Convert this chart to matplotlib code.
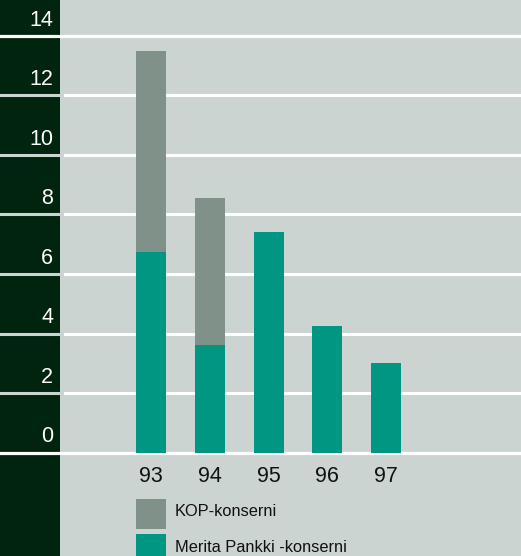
import matplotlib.pyplot as plt
from matplotlib.patches import Rectangle

# Data
years = ['93', '94', '95', '96', '97']
merita = [6.75, 3.6, 7.4, 4.25, 3.0]
kop = [6.75, 4.95, 0.0, 0.0, 0.0]
yticks = [0, 2, 4, 6, 8, 10, 12, 14]
legend_labels = ['KOP-konserni', 'Merita Pankki -konserni']

# Colours
bg = '#cbd4d0'
strip = '#01240f'
grey = '#7f9188'
teal = '#009682'

W, H = 521, 556
fig = plt.figure(figsize=(W / 100, H / 100), dpi=100, facecolor=bg)
ax = fig.add_axes([0, 0, 1, 1])
ax.set_facecolor(bg)
for s in ax.spines.values():
    s.set_visible(False)
ax.set_xticks([])
ax.set_yticks([])

# pixel geometry -> data limits
px_per_cat = 58.75
px_per_unit = 29.75
x0_px, y0_px = 151, 452.5
ax.set_xlim(-x0_px / px_per_cat, (W - x0_px) / px_per_cat)
ax.set_ylim(-(H - y0_px) / px_per_unit, y0_px / px_per_unit)

# dark strip on the left
ax.add_patch(Rectangle((0, 0), 60 / W, 1, transform=ax.transAxes,
                       facecolor=strip, edgecolor='none', zorder=1))

# grid lines
for v in yticks:
    if v in (0, 14):
        ax.axhline(v, xmin=0, xmax=1, color='white', lw=2.3, zorder=2)
    else:
        ax.axhline(v, xmin=0, xmax=60 / W, color=bg, lw=2.2, zorder=2)
        ax.axhline(v, xmin=65 / W, xmax=1, color='white', lw=2.2, zorder=2)
    ax.text(53 / W, v + 0.53, str(v), transform=ax.get_yaxis_transform(),
            ha='right', va='center', color='white', fontsize=15.5,
            family='Liberation Sans', zorder=4)

# bars
xs = list(range(len(years)))
bw = 30 / px_per_cat
ax.bar(xs, merita, width=bw, color=teal, zorder=3)
ax.bar(xs, kop, width=bw, bottom=merita, color=grey, zorder=3)

# category labels
for x, lab in zip(xs, years):
    ax.text(x, -0.79, lab, ha='center', va='center', color='#111111',
            fontsize=15.5, family='Liberation Sans')

# legend drawn by hand
leg_colors = [grey, teal]
leg_tops = [499, 534]
for c, top, lab in zip(leg_colors, leg_tops, legend_labels):
    ax.add_patch(Rectangle((-bw / 2, -(top + 30 - y0_px) / px_per_unit), bw,
                           30 / px_per_unit, facecolor=c, edgecolor='none', zorder=3))
    ax.text((175 - x0_px) / px_per_cat, -(top + 13 - y0_px) / px_per_unit, lab,
            ha='left', va='center', color='#111111', fontsize=11.8,
            family='Liberation Sans')

fig.savefig('out.png', dpi=100, facecolor=bg)
